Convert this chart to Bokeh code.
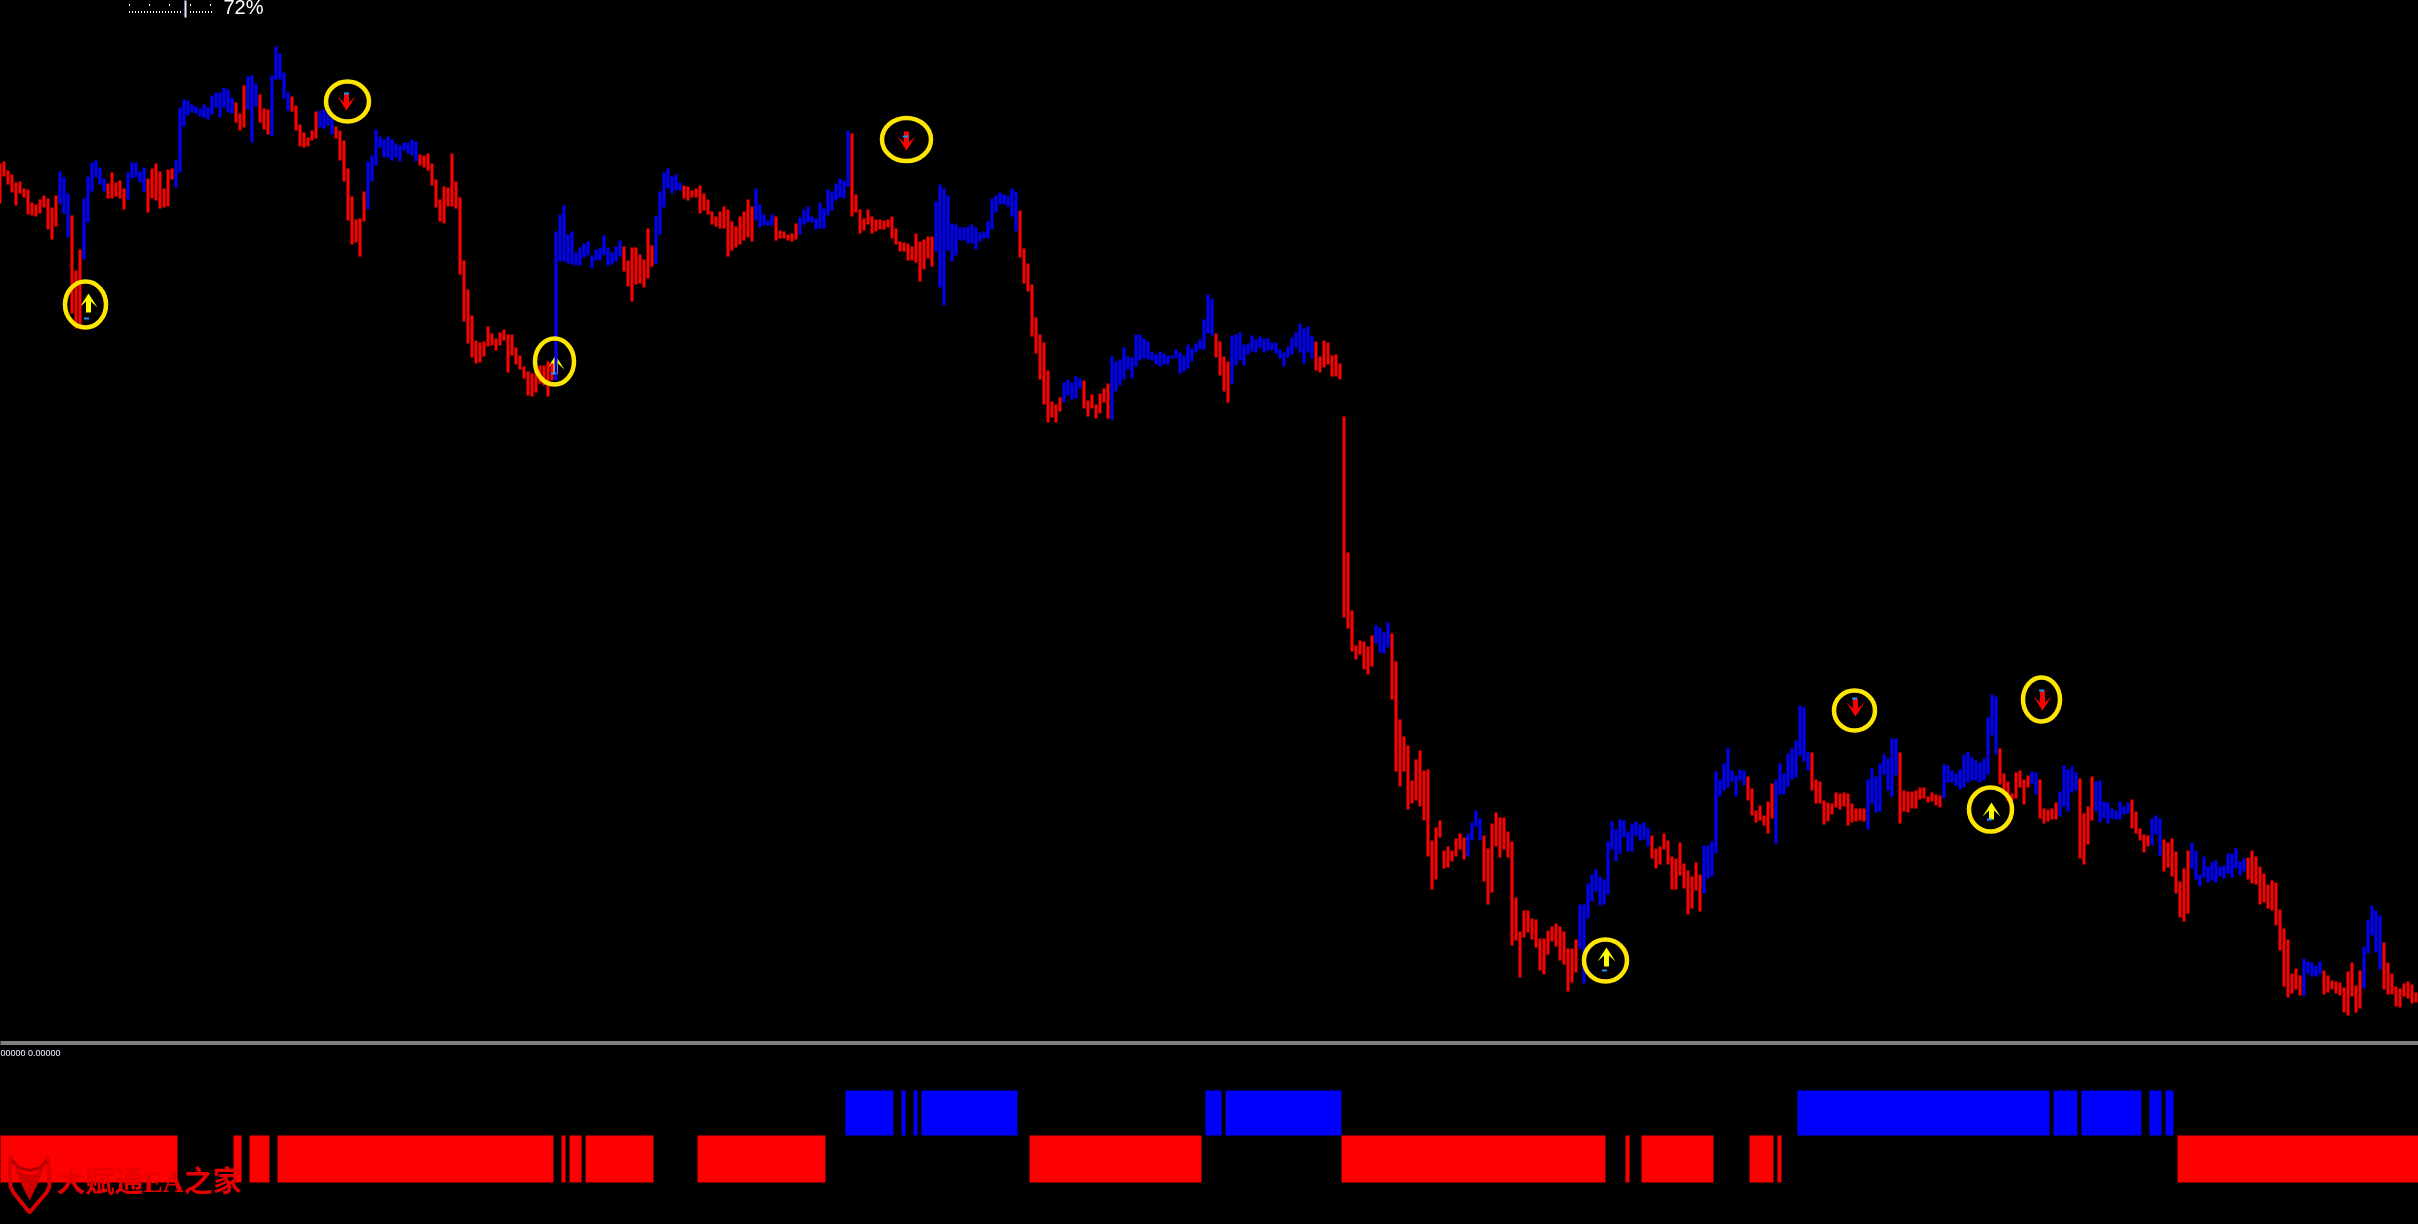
from bokeh.embed import file_html
from bokeh.resources import INLINE
from bokeh.plotting import figure
from bokeh.models import Range1d
from bokeh.core.properties import value

# price panel: each bar's upper and lower end in chart rows
bar_high = [
163,161,170,174,182,181,188,189,202,204, 199,195,198,207,195,171,177,193,215,270,
249,198,176,162,160,167,178,183,172,182, 180,188,172,162,162,171,167,178,168,163,
171,188,169,168,159,107,99,100,104,106, 108,104,107,95,92,92,87,89,97,102,
113,85,76,75,83,94,108,109,75,46, 53,72,92,96,105,124,132,137,130,111,
110,109,112,118,126,130,140,168,196,219, 218,191,161,155,129,136,139,136,139,143,
145,142,142,139,141,154,155,153,163,179, 199,186,187,153,181,197,260,289,315,340,
342,341,326,333,338,332,329,334,334,347, 355,366,371,373,370,365,365,361,363,231,
214,205,234,231,252,247,243,241,255,249, 247,235,247,252,246,240,246,260,247,247,
254,259,228,245,215,191,172,168,176,174, 182,185,186,190,188,185,193,199,211,216,
211,206,209,221,226,216,211,199,206,188, 204,214,220,214,216,230,231,234,233,223,
217,209,206,216,218,202,208,189,191,183, 178,180,130,133,194,209,218,209,216,219,
219,220,219,216,228,241,242,243,246,233, 241,239,236,236,201,184,188,195,223,224,
227,227,226,224,227,232,231,221,198,195, 192,194,195,188,191,210,248,263,284,317,
334,342,370,401,404,397,382,379,382,376, 378,380,400,394,404,393,388,383,356,361,
359,347,356,357,334,334,338,341,351,354, 351,353,355,355,349,352,355,344,348,343,
339,319,294,298,333,341,356,361,335,334, 332,344,343,335,339,336,338,338,342,342,
349,352,346,337,332,323,328,326,336,341, 356,340,342,355,354,363,416,552,610,645,
640,641,646,635,625,627,632,622,633,661, 719,736,745,780,759,750,770,769,840,827,
820,850,846,850,838,833,837,833,822,810, 818,835,848,823,812,817,817,831,841,897,
931,910,910,918,919,938,938,930,926,923, 926,931,948,948,939,904,904,883,874,869,
876,879,841,821,829,819,820,831,823,821, 824,822,827,835,848,846,833,840,856,858,
842,863,870,876,862,874,845,845,841,771, 779,763,747,770,775,769,770,776,788,810,
805,815,801,783,779,763,773,753,748,740, 705,707,751,752,779,781,800,802,803,792,
793,792,793,803,808,808,808,779,768,776, 763,754,758,738,738,752,790,791,791,790,
787,787,796,792,794,795,764,765,770,773, 769,754,751,757,760,762,758,717,694,696,
748,773,781,793,772,770,779,775,771,772, 779,808,809,808,802,791,765,769,766,772,
778,813,806,776,781,780,801,802,808,810, 801,806,802,799,811,828,834,835,818,815,
818,839,842,838,851,881,868,850,842,850, 874,856,866,862,860,866,865,853,853,848,
861,858,857,850,856,866,873,884,880,882, 909,928,939,973,968,975,958,961,962,965,
961,970,975,980,981,982,987,971,962,985, 970,946,919,905,910,915,942,962,973,986,
988,983,981,984,992,
]
bar_low = [
203,176,184,192,205,193,197,214,215,216, 213,207,229,239,226,203,213,237,313,328,
328,259,222,191,177,184,191,198,198,196, 198,209,199,178,177,182,191,212,198,200,
208,207,206,179,187,172,126,115,112,113, 116,117,119,114,107,117,107,112,113,122,
130,127,109,142,106,122,129,134,136,79, 79,98,110,111,130,146,147,146,140,138,
127,128,125,134,138,160,181,220,244,242, 256,221,209,181,165,147,157,157,160,157,
161,150,153,155,161,165,167,170,185,207, 221,223,206,206,208,274,321,343,357,363,
362,356,346,345,350,345,340,372,355,364, 369,378,395,396,392,383,385,396,380,380,
261,261,263,264,265,265,257,255,268,260, 260,255,265,264,261,256,271,286,301,284,
283,287,278,266,263,234,207,188,193,190, 190,198,200,197,197,213,210,214,224,226,
228,228,256,250,247,244,240,237,241,220, 227,225,225,225,240,238,238,240,241,239,
234,224,222,222,229,228,228,215,210,200, 197,198,186,216,212,233,230,224,233,231,
229,229,227,238,244,251,251,260,260,262, 281,269,258,266,251,287,305,250,261,255,
240,240,243,243,249,241,238,238,229,212, 204,204,206,216,231,257,283,291,336,353,
379,404,422,417,422,411,402,395,399,398, 388,408,416,408,418,413,402,418,419,391,
385,379,369,378,366,360,358,359,360,364, 366,364,364,358,358,373,371,368,361,352,
349,349,333,335,357,375,391,402,384,365, 360,365,354,351,352,347,352,350,350,353,
358,366,357,354,347,352,363,352,358,370, 372,367,364,376,376,379,617,628,651,659,
654,669,674,666,643,652,653,647,699,771, 786,771,809,803,800,806,820,856,889,879,
837,868,867,861,856,849,859,856,840,826, 840,881,904,892,846,857,849,857,945,940,
977,937,932,939,947,970,974,954,941,946, 960,964,991,982,972,948,983,918,901,891,
905,904,894,849,861,853,837,851,851,835, 840,839,846,858,868,864,849,864,889,889,
875,888,914,908,890,911,893,878,876,853, 796,790,787,781,796,780,785,800,815,822,
820,825,833,818,843,794,794,786,779,777, 755,761,770,790,803,803,824,821,814,807,
809,806,825,822,821,820,821,829,803,812, 811,774,790,796,775,823,811,812,808,808,
799,798,802,801,805,807,798,782,782,785, 789,787,782,780,780,782,780,774,735,754,
784,793,801,800,798,787,804,787,784,794, 818,823,821,819,819,816,806,811,792,790,
858,864,844,820,811,822,818,823,818,819, 819,814,813,828,833,840,852,846,845,834,
856,871,867,876,893,917,921,913,868,879, 886,877,882,880,882,876,878,873,877,868,
875,871,879,883,884,904,902,908,910,925, 950,986,997,993,989,995,995,973,976,976,
974,994,992,989,993,995,1012,1015,996,1012, 1008,988,953,935,952,969,989,994,994,1006,
1007,996,998,1003,1002,
]
# runs of consecutive bars: (colour, how many)
bar_runs = [
("red",15),("blue",3),("red",3),("blue",6),("red",5),("blue",5),("red",7),("blue",15),
("red",3),("blue",3),("red",3),("blue",5),("red",7),("blue",4),("red",8),("blue",13),
("red",34),("blue",17),("red",8),("blue",7),("red",18),("blue",5),("red",6),("blue",13),
("red",21),("blue",21),("red",11),("blue",5),("red",7),("blue",26),("red",4),("blue",21),
("red",15),("blue",4),("red",19),("blue",4),("red",24),("blue",18),("red",13),("blue",11),
("red",7),("blue",9),("red",14),("blue",8),("red",11),("blue",14),("red",8),("blue",2),
("red",5),("blue",5),("red",4),("blue",9),("red",5),("blue",3),("red",7),("blue",14),
("red",14),("blue",5),("red",10),("blue",5),("red",9),
]

# lower panel: on/off stretches along the strip
strip_red_start = [0,233,249,277,561,569,585,697,1029,1341,1625,1641,1749,1777,2177]
strip_red_end = [177,241,269,553,565,581,653,825,1201,1605,1629,1713,1773,1781,2418]
strip_blue_start = [845,901,913,921,1205,1225,1797,2053,2081,2149,2165]
strip_blue_end = [893,905,917,1017,1221,1341,2049,2077,2141,2161,2173]

# signal rings and arrows
ring_x = [85,347,554,906,1605,1854,2041,1990]
ring_y = [304,101,361,139,960,710,699,809]
ring_w = [41,43,39,49,43,41,37,43]
ring_h = [46,40,46,43,42,40,44,44]
arrow_up_x = [88,555,1606,1991]
arrow_up_tip = [293,355,947,802]
arrow_up_tail = [312,374,966,819]
arrow_down_x = [346,906,1855,2042]
arrow_down_tip = [110,150,716,710]
arrow_down_tail = [93,131,698,690]
dash_x = [86,553,1604,1989,346,905,1854,2041]
dash_y = [318,373,970,819,93,136,698,690]

# top-left zoom ruler
ruler_low_x = [129,132,135,138,141,144,147,150,153,156,159,162,165,168,171,174,177,180,190,193,196,199,202,205,208,211]
ruler_high_x = [129,149,169,190,210]

# watermark
logo_ring_x = [11,9,10,13,29,46,49,48,47]
logo_ring_y = [1156,1168,1186,1192,1212,1192,1186,1168,1156]
logo_head_x = [14,24,29,34,44,37,29,21]
logo_head_y = [1166,1174,1174,1174,1166,1184,1200,1184]
logo_horn_x = [12,18,29,40,46]
logo_horn_y = [1160,1167,1170,1167,1160]

W, H = 2418, 1224
p = figure(width=W + 2, height=H + 2, output_backend="svg", toolbar_location=None,
           x_range=Range1d(-1, W + 1), y_range=Range1d(H + 1, -1),
           background_fill_color="#000000", border_fill_color="#000000",
           min_border=0, outline_line_color=None,
           styles={"position": "fixed", "left": "-1px", "top": "-1px"})
p.xaxis.visible = False
p.yaxis.visible = False
p.grid.visible = False

bar_color = []
for colour, count in bar_runs:
    bar_color += [colour] * count
bar_color = [{"red": "#ff0000", "blue": "#0000ff"}[c] for c in bar_color]
if not (len(bar_high) == len(bar_low) == len(bar_color)):
    raise SystemExit(f"length mismatch {len(bar_high)} {len(bar_low)} {len(bar_color)}")
bar_x = [4 * i - 0.5 for i in range(len(bar_high))]


def arrow(x, tip, tail):
    s = 1 if tail > tip else -1
    return ([x, x + 9, x + 2.5, x + 2.5, x - 2.5, x - 2.5, x - 9],
            [tip, tip + s * 14, tip + s * 8, tail, tail, tip + s * 8, tip + s * 14])


# arrows sit behind the bars
up = [arrow(a, b, c) for a, b, c in zip(arrow_up_x, arrow_up_tip, arrow_up_tail)]
p.patches([u[0] for u in up], [u[1] for u in up], fill_color="#ffff00", line_color=None)
dn = [arrow(a, b, c) for a, b, c in zip(arrow_down_x, arrow_down_tip, arrow_down_tail)]
p.patches([d[0] for d in dn], [d[1] for d in dn], fill_color="#ff0000", line_color=None)

p.vbar(x=bar_x, width=3, top=bar_high, bottom=bar_low, fill_color=bar_color, line_color=None)

p.ellipse(x=ring_x, y=ring_y, width=ring_w, height=ring_h, fill_color=None,
          line_color="#ffe600", line_width=4.5)
p.rect(x=dash_x, y=dash_y, width=5, height=2, fill_color="#1e90ff", line_color=None)

# panel separator
p.quad(left=[0, 0], right=[W, W], top=[1041, 1043], bottom=[1042, 1044],
       fill_color="#ffffff", line_color=None)

# strip
p.quad(left=strip_red_start, right=strip_red_end, top=[1135] * len(strip_red_start),
       bottom=[1182] * len(strip_red_start), fill_color="#ff0000", line_color=None)
p.quad(left=strip_blue_start, right=strip_blue_end, top=[1090] * len(strip_blue_start),
       bottom=[1135] * len(strip_blue_start), fill_color="#0000ff", line_color=None)

# indicator value text
p.text(x=[0], y=[1052], text=["00000 0.00000"], text_color="#f0f4ff",
       text_font=value("Liberation Sans"), text_font_size="9px", text_baseline="middle")

# zoom ruler and percentage
p.rect(x=ruler_low_x, y=[11.5] * len(ruler_low_x), width=1, height=2, fill_color="#ffffff", line_color=None)
p.rect(x=ruler_high_x, y=[4.5] * len(ruler_high_x), width=1, height=2, fill_color="#ffffff", line_color=None)
p.quad(left=[184], right=[186], top=[0], bottom=[17], fill_color="#dbe9ff", line_color=None)
p.text(x=[223], y=[6], text=["72%"], text_color="#ffffff",
       text_font=value("Liberation Sans"), text_font_size="20px", text_baseline="middle")

# watermark
p.text(x=[56], y=[1181], text=["大赋通EA之家"], text_color="#e80000",
       text_font=value("Liberation Serif, Noto Sans CJK SC"), text_font_style="bold", text_font_size="29px",
       text_baseline="middle")
p.line(logo_ring_x, logo_ring_y, line_color="#d80000", line_width=4)
p.line(logo_horn_x, logo_horn_y, line_color="#b00000", line_width=3)
p.patch(logo_head_x, logo_head_y, fill_color="#d00000", line_color=None)

open("out.html", "w").write(file_html(p, INLINE))
